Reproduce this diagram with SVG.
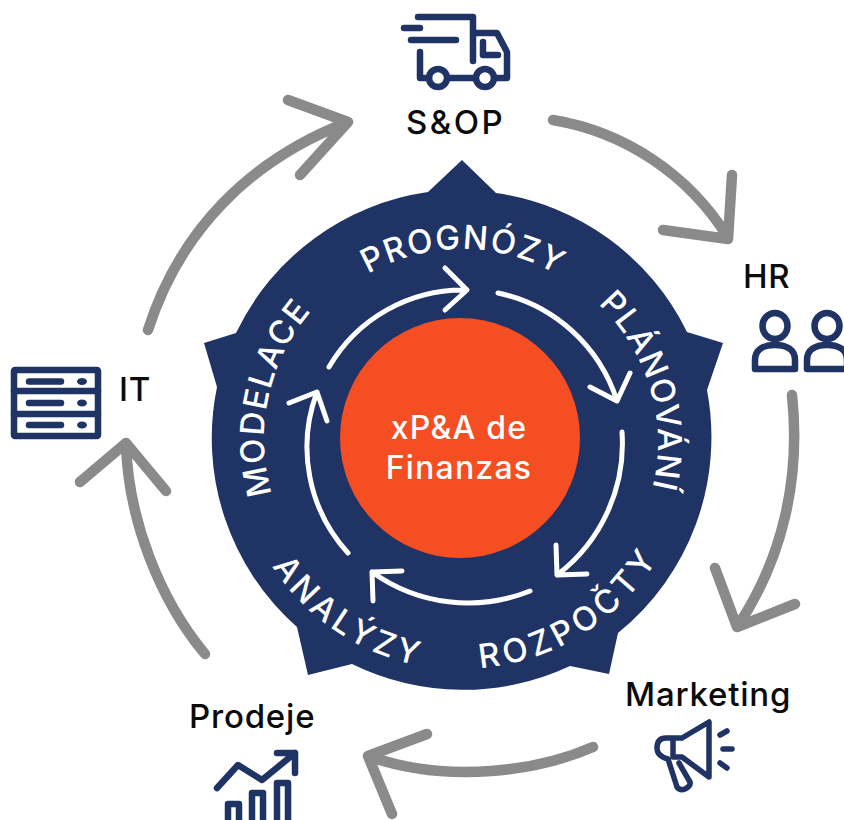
<svg xmlns="http://www.w3.org/2000/svg" width="844" height="820" viewBox="0 0 844 820">
<style>
.lbl{font-family:"Inter","Liberation Sans",sans-serif;font-weight:500;font-size:33px;letter-spacing:.8px;fill:#0b0b0b}
.arc{font-family:"Inter","Liberation Sans",sans-serif;font-weight:500;font-size:33px;fill:#fff}
.ctr{font-family:"Inter","Liberation Sans",sans-serif;font-weight:500;font-size:32px;letter-spacing:1.200px;fill:#fff;text-anchor:middle}
.g{fill:none;stroke:#8a8a8a;stroke-width:10.500;stroke-linecap:round;stroke-linejoin:round}
.w{fill:none;stroke:#fff;stroke-width:5;stroke-linecap:round;stroke-linejoin:round}
.ic{fill:none;stroke:#1f3364;stroke-width:6.500;stroke-linecap:round;stroke-linejoin:round}
.is{fill:#1f3364;stroke:none}
</style>
<defs>
<path id="pProg" d="M368 274A189 189 0 0 1 570 283"/>
<path id="pPlan" d="M598 304A191 191 0 0 1 652 490"/>
<path id="pMod" d="M272 494A196 196 0 0 1 330 292"/>
<path id="pRoz" d="M480 668A230 230 0 0 0 680 510"/>
<path id="pAna" d="M272 566A228 228 0 0 0 455 670"/>
</defs>
<g id="connectors">
<path class="g" d="M553 120A255 255 0 0 1 727 236M663 230L728 239L732 175"/>
<path class="g" d="M792 395C801 480 782 560 737 627M715 568L737 627L795 604"/>
<path class="g" d="M593 747C540 770 450 785 368 756M427 734L368 756L392 814"/>
<path class="g" d="M205 654C160 600 128 520 126 443M80 482L126 443L166 491"/>
<path class="g" d="M148 330C180 230 250 160 348 122M288 100L348 122L300 175"/>
</g>
<g id="hub">
<path fill="#1f3364" d="M462 160L496 193A252 252 0 0 1 687 332L723 343L707 390A252 252 0 0 1 618 633L609 674L570 666A252 252 0 0 1 352 664L308 675L297 627A252 252 0 0 1 217 387L204 343L236 333A252 252 0 0 1 428 192Z"/>
<circle cx="460" cy="438" r="120" fill="#f44e22"/>
<text class="ctr"><tspan x="459" y="439">xP&amp;A de</tspan><tspan x="459" y="479">Finanzas</tspan></text>
<g id="inner-arrows">
<path class="w" d="M329 367A155 155 0 0 1 467 290M445 268L467 290L445 310"/>
<path class="w" d="M498 293A160 160 0 0 1 617 401M590 387L617 401L630 373"/>
<path class="w" d="M622 432A165 165 0 0 1 557 575M556 545L557 575L587 574"/>
<path class="w" d="M530 591A165 165 0 0 1 372 572M402 571L372 572L373 601"/>
<path class="w" d="M348 553A157 157 0 0 1 317 392M289 403L317 392L327 421"/>
</g>
<text class="arc" letter-spacing="1.500"><textPath href="#pProg">PROGNÓZY</textPath></text>
<text class="arc" letter-spacing="1.200"><textPath href="#pPlan">PLÁNOVÁNÍ</textPath></text>
<text class="arc" letter-spacing="1.500"><textPath href="#pMod">MODELACE</textPath></text>
<text class="arc" letter-spacing="4.500"><textPath href="#pRoz">ROZPOČTY</textPath></text>
<text class="arc" letter-spacing="4"><textPath href="#pAna">ANALÝZY</textPath></text>
</g>
<g id="sop">
<path class="ic" d="M418 17H473V61M475 33H497L507 52V78H494M420 52V78H429M448 78H475M404 28H420M411 40H456M483 42V55H498"/>
<circle class="ic" cx="438" cy="78" r="9"/><circle class="ic" cx="485" cy="78" r="9"/>
<text class="lbl" x="406" y="134" style="letter-spacing:2.400px">S&amp;OP</text>
</g>
<g id="hr">
<text class="lbl" x="743" y="288">HR</text>
<ellipse class="ic" cx="775" cy="326" rx="12.500" ry="13"/>
<path class="ic" d="M755 369V360C755 350 763 345 775 345C787 345 795 350 795 360V369Z"/>
<ellipse class="ic" cx="827" cy="326" rx="12.500" ry="13"/>
<path class="ic" d="M807 369V360C807 350 815 345 827 345C839 345 847 350 847 360V369Z"/>
</g>
<g id="marketing">
<text class="lbl" x="625" y="706">Marketing</text>
<path class="ic" style="stroke-width:5.500" d="M682 738H666Q657 738 657 748Q657 756 668 759L677 787Q680 791 685 789Q691 786 690 782L679 763M682 738L709 722V777L682 757H673V738"/>
<path class="ic" style="stroke-width:5.500" d="M720 735L727 731M723 749H732M720 763L727 768"/>
</g>
<g id="prodeje">
<text class="lbl" x="189" y="728">Prodeje</text>
<path class="ic" d="M217 788L238 765L262 780L295 753M277 753H295V773"/>
<path class="ic" d="M228 804H239V824H228ZM252 793H263V824H252ZM277 783H288V824H277Z"/>
</g>
<g id="it">
<rect class="ic" x="14" y="370" width="84" height="66" rx="1"/>
<path class="ic" d="M14 391H98M14 414H98"/>
<path class="ic" d="M29 381.500H61M29 403H61M29 425H61"/>
<ellipse class="is" cx="82" cy="381.500" rx="5" ry="3.500"/><ellipse class="is" cx="82" cy="403" rx="5" ry="3.500"/><ellipse class="is" cx="82" cy="425" rx="5" ry="3.500"/>
<text class="lbl" x="119" y="401">IT</text>
</g>
</svg>
